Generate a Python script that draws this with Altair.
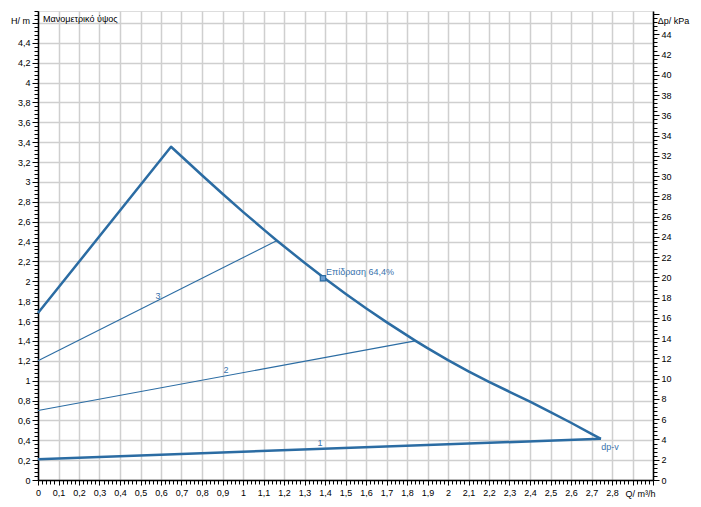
import altair as alt
import pandas as pd

# ---- data ----
max_q = [0.0, 0.649, 0.8, 0.9, 1.0, 1.1, 1.166, 1.3, 1.39, 1.5, 1.6, 1.7, 1.84,
         1.9, 2.0, 2.1, 2.2, 2.3, 2.4, 2.5, 2.6, 2.7, 2.746]
max_h = [1.68, 3.354, 3.067, 2.881, 2.699, 2.522, 2.408, 2.186, 2.042, 1.874, 1.728, 1.589, 1.403,
         1.327, 1.206, 1.094, 0.988, 0.888, 0.788, 0.684, 0.576, 0.464, 0.413]
min_q = [0.0, 2.746]
min_h = [0.21, 0.415]
s2_q = [0.0, 1.84]
s2_h = [0.70, 1.40]
s3_q = [0.0, 1.166]
s3_h = [1.20, 2.41]

lab_text = ["3", "2", "1", "dp-v"]
lab_q = [0.585, 0.917, 1.376, 2.79]
lab_h = [1.853, 1.108, 0.373, 0.332]

op_q = [1.39]
op_h = [2.03]
op_text = ["Επίδραση 64,4%"]

q_max = 3.0
h_max = 4.72
kpa_per_m = 9.81
kpa_max = h_max * kpa_per_m

x_ticks = [round(i * 0.02, 2) for i in range(0, 151)]
y_ticks = [round(i * 0.04, 2) for i in range(0, 119)]
r_ticks = [round(i * 0.4, 1) for i in range(0, 116)]

BLUE = "#2b6ca3"
TXT = "#3a73ad"
FONT = "Liberation Sans"

thick = pd.DataFrame({
    "q": max_q + min_q,
    "h": max_h + min_h,
    "s": ["max"] * len(max_q) + ["min"] * len(min_q),
    "o": list(range(len(max_q))) + list(range(len(min_q))),
})
thin = pd.DataFrame({
    "q": s2_q + s3_q,
    "h": s2_h + s3_h,
    "s": ["2"] * len(s2_q) + ["3"] * len(s3_q),
})
labels = pd.DataFrame({"q": lab_q, "h": lab_h, "t": lab_text})
op = pd.DataFrame({"q": op_q, "h": op_h, "t": op_text})
right = pd.DataFrame({"kpa": [0, kpa_max]})

x_major = "abs(datum.value*10 - round(datum.value*10)) < 0.001"
y_major = "abs(datum.value*5 - round(datum.value*5)) < 0.001"
r_major = "abs(datum.value/2 - round(datum.value/2)) < 0.001"

x_axis = alt.Axis(
    values=x_ticks,
    labelExpr=f"({x_major}) && datum.value < 2.85 ? replace(format(datum.value, '.1~f'), '.', ',') : ''",
    labelOverlap=False, labelFlush=False,
    tickSize={"condition": {"test": x_major, "value": 5}, "value": 4},
    gridOpacity={"condition": {"test": x_major, "value": 1}, "value": 0},
    grid=True, gridColor="#cfcfcf", gridWidth=1.5,
    tickColor="black", domainColor="black", domainWidth=1.5,
    labelFont=FONT, labelFontSize=9, labelColor="black", labelPadding=3,
    title="Q/ m³/h", titleFont=FONT, titleFontSize=9, titleFontWeight="normal",
    titleX=602, titleY=9, titleAlign="center", titleBaseline="top", titleAngle=0,
)
y_axis = alt.Axis(
    values=y_ticks, orient="left",
    labelExpr=f"({y_major}) && datum.value < 4.5 ? replace(format(datum.value, '.1~f'), '.', ',') : ''",
    labelOverlap=False, labelFlush=False,
    tickSize={"condition": {"test": y_major, "value": 6}, "value": 4},
    gridOpacity={"condition": {"test": y_major, "value": 1}, "value": 0},
    grid=True, gridColor="#cfcfcf", gridWidth=1.5,
    tickColor="black", domainColor="black", domainWidth=1.5,
    labelFont=FONT, labelFontSize=9, labelColor="black", labelPadding=2,
    title="H/ m", titleFont=FONT, titleFontSize=9, titleFontWeight="normal",
    titleX=-18, titleY=9, titleAlign="center", titleBaseline="middle", titleAngle=0,
)
r_axis = alt.Axis(
    values=r_ticks, orient="right",
    labelExpr=f"({r_major}) && datum.value < 45 ? format(datum.value, 'd') : ''",
    labelOverlap=False, labelFlush=False,
    tickSize={"condition": {"test": r_major, "value": 6}, "value": 4},
    grid=False,
    tickColor="black", domainColor="black", domainWidth=1.5,
    labelFont=FONT, labelFontSize=9, labelColor="black", labelPadding=2,
    title="Δp/ kPa", titleFont=FONT, titleFontSize=9, titleFontWeight="normal",
    titleX=20, titleY=9, titleAlign="center", titleBaseline="middle", titleAngle=0,
)

xs = alt.Scale(domain=[0, q_max], nice=False, zero=False)
ys = alt.Scale(domain=[0, h_max], nice=False, zero=False)

def X():
    return alt.X("q:Q", scale=xs, axis=x_axis)

def Y():
    return alt.Y("h:Q", scale=ys, axis=y_axis)

thick_layer = alt.Chart(thick).mark_line(color=BLUE, strokeWidth=2.5, strokeJoin="round").encode(
    x=X(), y=Y(), detail="s:N", order="o:Q",
)
thin_layer = alt.Chart(thin).mark_line(color=BLUE, strokeWidth=1.1).encode(
    x=X(), y=Y(), detail="s:N",
)
label_layer = alt.Chart(labels).mark_text(
    color=TXT, font=FONT, fontSize=9, align="center", baseline="middle"
).encode(x=X(), y=Y(), text="t:N")
op_point = alt.Chart(op).mark_point(
    shape="square", size=28, filled=True, fill="#6d9fd2", stroke=BLUE, strokeWidth=1.2, opacity=1
).encode(x=X(), y=Y())
op_text_layer = alt.Chart(op).mark_text(
    color=TXT, font=FONT, fontSize=9, align="left", baseline="bottom", dx=3, dy=-1
).encode(x=X(), y=Y(), text="t:N")

main = alt.layer(thick_layer, thin_layer, label_layer, op_point, op_text_layer)

right_layer = alt.Chart(right).mark_point(opacity=0).encode(
    y=alt.Y("kpa:Q", scale=alt.Scale(domain=[0, kpa_max], nice=False, zero=False), axis=r_axis)
)

chart = alt.layer(main, right_layer).resolve_scale(y="independent").properties(
    width=615, height=469,
    autosize=alt.AutoSizeParams(type="none"),
    padding={"left": 30, "top": 3, "right": 40, "bottom": 20},
    title=alt.TitleParams(
        "Μανομετρικό ύψος", anchor="start", frame="group", offset=-17, dx=5,
        font=FONT, fontSize=9, fontWeight="normal", color="black",
    ),
).configure_view(stroke="#9a9a9a", strokeWidth=2).configure(background="white")

chart.save("out.html", embed_options={"renderer": "svg", "actions": False})
